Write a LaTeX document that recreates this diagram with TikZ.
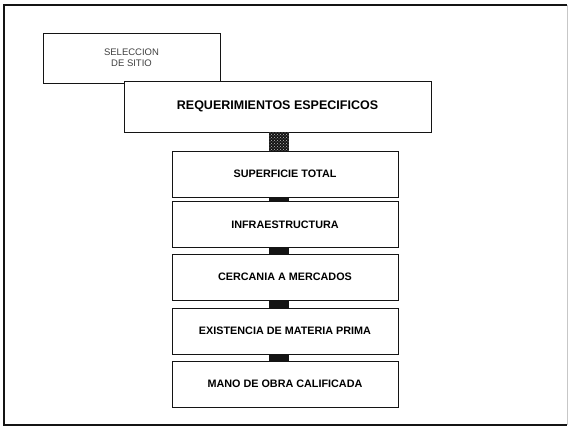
\documentclass[tikz,border=0pt]{standalone}
\usepackage{fontspec}
\setmainfont{Liberation Sans}
\usepackage{xcolor}
\definecolor{scanInk}{gray}{0.08}
\definecolor{scanEdge}{gray}{0.78}
\usepackage{tikz}
\usetikzlibrary{patterns}

\tikzset{
  framebox/.style={draw=scanInk, line width=0.8pt, fill=white, inner sep=0pt},
  itembox/.style={framebox, minimum width=226pt, minimum height=46pt,
    font=\fontsize{10.8}{12}\selectfont\bfseries},
  linkbar/.style={fill=scanInk}
}

\begin{document}
\begin{tikzpicture}[x=1pt, y=-1pt]
  \useasboundingbox (0,0) rectangle (568,427);
  % ---- outer page frame (right edge faded in the scan) ----
  \draw[scanInk, line width=1.1pt] (567,5) -- (4,5) -- (4,425) -- (567,425);
  \draw[scanEdge, line width=0.6pt] (567,5) -- (567,425);
  % ---- heading boxes ----
  \node[framebox, minimum width=177pt, minimum height=50pt, align=center,
        font=\fontsize{9.5}{11}\selectfont, text=black!75] (sel) at (131.5,58)
    {SELECCION\\DE SITIO};
  \node[framebox, minimum width=307pt, minimum height=51pt,
        font=\fontsize{12.5}{14}\selectfont\bfseries] (req) at (277.5,106.5)
    {REQUERIMIENTOS ESPECIFICOS};
  % ---- requirement list ----
  \foreach \n/\y/\t in {sup/174/SUPERFICIE TOTAL, infra/224.5/INFRAESTRUCTURA,
      cerc/277/CERCANIA A MERCADOS, exist/331/EXISTENCIA DE MATERIA PRIMA,
      mano/384/MANO DE OBRA CALIFICADA}
    \node[itembox] (\n) at (285,\y) {\t};
  % ---- links along the spine ----
  \coordinate (spineL) at (269,0);
  \coordinate (spineR) at (288.5,0);
  \fill[linkbar] (req.south -| spineL) rectangle (sup.north -| spineR);
  \fill[pattern=crosshatch dots, pattern color=white!75!black]
    (req.south -| spineL) rectangle (sup.north -| spineR);
  \foreach \a/\b in {sup/infra, infra/cerc, cerc/exist, exist/mano}
    \fill[linkbar] (\a.south -| spineL) rectangle (\b.north -| spineR);
\end{tikzpicture}
\end{document}
